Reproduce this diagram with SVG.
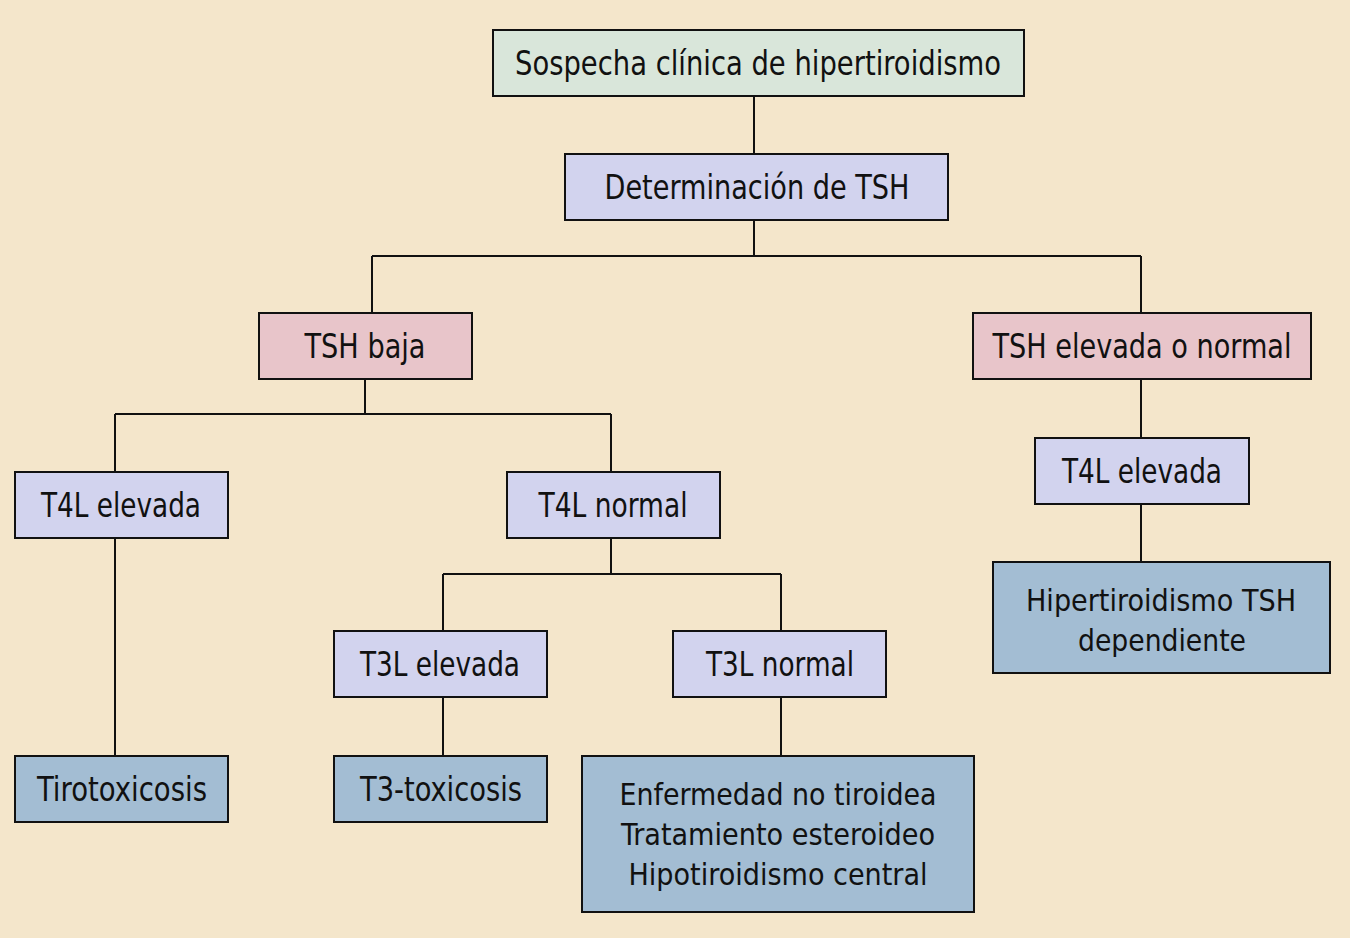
<svg xmlns="http://www.w3.org/2000/svg" width="1350" height="938" viewBox="0 0 1350 938">
<style>
.b{stroke:#111;stroke-width:2}
.g{fill:#d9e6da}.l{fill:#d2d3ee}.p{fill:#e8c5ca}.u{fill:#a3bdd3}
text{font-family:"Liberation Sans Narrow","DejaVu Sans Condensed","Liberation Sans",sans-serif;font-size:34px;fill:#111;text-anchor:middle}
.s{font-size:31px}
.c{fill:none;stroke:#111;stroke-width:2}
</style>
<rect width="1350" height="938" fill="#f4e6cb"/>
<g id="connectors" class="c">
<path d="M754 96V154"/>
<path d="M754 220V256M372 256H1141M372 256V313M1141 256V313"/>
<path d="M365 379V414M115 414H611M115 414V472M611 414V472"/>
<path d="M115 538V756"/>
<path d="M611 538V574M443 574H781M443 574V631M781 574V631"/>
<path d="M443 697V756"/>
<path d="M781 697V756"/>
<path d="M1141 379V438"/>
<path d="M1141 504V562"/>
</g>
<g id="n1"><rect class="b g" x="493" y="30" width="531" height="66"/><text x="758" y="75" textLength="486" lengthAdjust="spacingAndGlyphs">Sospecha clínica de hipertiroidismo</text></g>
<g id="n2"><rect class="b l" x="565" y="154" width="383" height="66"/><text x="757" y="199" textLength="305" lengthAdjust="spacingAndGlyphs">Determinación de TSH</text></g>
<g id="n3"><rect class="b p" x="259" y="313" width="213" height="66"/><text x="365" y="358" textLength="121" lengthAdjust="spacingAndGlyphs">TSH baja</text></g>
<g id="n4"><rect class="b p" x="973" y="313" width="338" height="66"/><text x="1142" y="358" textLength="299" lengthAdjust="spacingAndGlyphs">TSH elevada o normal</text></g>
<g id="n5"><rect class="b l" x="15" y="472" width="213" height="66"/><text x="121" y="517" textLength="160" lengthAdjust="spacingAndGlyphs">T4L elevada</text></g>
<g id="n6"><rect class="b l" x="507" y="472" width="213" height="66"/><text x="613" y="517" textLength="149" lengthAdjust="spacingAndGlyphs">T4L normal</text></g>
<g id="n7"><rect class="b l" x="1035" y="438" width="214" height="66"/><text x="1142" y="483" textLength="160" lengthAdjust="spacingAndGlyphs">T4L elevada</text></g>
<g id="n8"><rect class="b l" x="334" y="631" width="213" height="66"/><text x="440" y="676" textLength="160" lengthAdjust="spacingAndGlyphs">T3L elevada</text></g>
<g id="n9"><rect class="b l" x="673" y="631" width="213" height="66"/><text x="780" y="676" textLength="148" lengthAdjust="spacingAndGlyphs">T3L normal</text></g>
<g id="n10"><rect class="b u" x="993" y="562" width="337" height="111"/><text class="s" x="1161" y="611" textLength="270" lengthAdjust="spacingAndGlyphs">Hipertiroidismo TSH</text><text class="s" x="1162" y="651" textLength="168" lengthAdjust="spacingAndGlyphs">dependiente</text></g>
<g id="n11"><rect class="b u" x="15" y="756" width="213" height="66"/><text x="122" y="801" textLength="170" lengthAdjust="spacingAndGlyphs">Tirotoxicosis</text></g>
<g id="n12"><rect class="b u" x="334" y="756" width="213" height="66"/><text x="441" y="801" textLength="162" lengthAdjust="spacingAndGlyphs">T3-toxicosis</text></g>
<g id="n13"><rect class="b u" x="582" y="756" width="392" height="156"/><text class="s" x="778" y="805" textLength="317" lengthAdjust="spacingAndGlyphs">Enfermedad no tiroidea</text><text class="s" x="778" y="845" textLength="314" lengthAdjust="spacingAndGlyphs">Tratamiento esteroideo</text><text class="s" x="778" y="885" textLength="299" lengthAdjust="spacingAndGlyphs">Hipotiroidismo central</text></g>
</svg>
